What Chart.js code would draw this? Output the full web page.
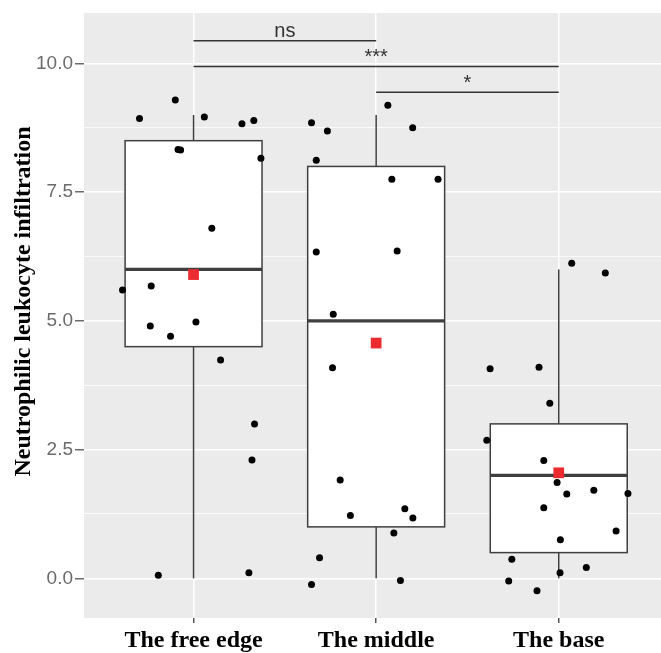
<!DOCTYPE html>
<html lang="en">
<head>
<meta charset="UTF-8">
<title>Neutrophilic leukocyte infiltration</title>
<style>
  body { margin: 0; background: #fff; }
  #wrap { width: 661px; height: 653px; }
</style>
</head>
<body>
<div id="wrap"><canvas id="boxChart" width="661" height="653"></canvas></div>
<script src="https://cdn.jsdelivr.net/npm/chart.js"></script>
<script>
const categories = ['The free edge', 'The middle', 'The base'];
const yTitle = 'Neutrophilic leukocyte infiltration';
const yTicks = [0, 1.25, 2.5, 3.75, 5, 6.25, 7.5, 8.75, 10];

// box stats for each group
const boxLow = [0, 0, 0];
const boxQ1 = [4.5, 1.0, 0.5];
const boxMedian = [6.0, 5.0, 2.0];
const boxQ3 = [8.5, 8.0, 3.0];
const boxHigh = [9.0, 9.0, 6.0];
const groupMeans = [5.9, 4.57, 2.05];

// jittered points (x = group position with jitter)
const freeEdgeX = [0.704, 0.900, 1.059, 1.265, 1.330, 0.915, 0.929, 1.369, 1.100, 0.611, 0.768, 0.763, 1.013, 0.874, 1.148, 1.334, 1.320, 0.807, 1.303];
const freeEdgeY = [8.93, 9.29, 8.96, 8.83, 8.89, 8.33, 8.32, 8.16, 6.80, 5.60, 5.68, 4.90, 4.98, 4.70, 4.24, 3.00, 2.30, 0.06, 0.11];
const middleX = [2.064, 1.646, 1.733, 2.200, 1.672, 2.086, 2.339, 1.672, 2.115, 1.765, 1.761, 1.803, 1.859, 2.157, 2.201, 2.097, 1.690, 1.646, 2.133];
const middleY = [9.19, 8.85, 8.69, 8.75, 8.12, 7.75, 7.75, 6.34, 6.36, 5.13, 4.09, 1.91, 1.22, 1.35, 1.17, 0.88, 0.40, -0.12, -0.04];
const baseX = [3.071, 3.255, 2.624, 2.892, 2.951, 2.606, 2.918, 2.991, 3.044, 3.192, 3.379, 2.918, 3.314, 3.009, 2.743, 3.151, 3.007, 2.726, 2.881];
const baseY = [6.12, 5.93, 4.07, 4.10, 3.40, 2.68, 2.29, 1.86, 1.64, 1.71, 1.65, 1.37, 0.92, 0.75, 0.37, 0.21, 0.11, -0.05, -0.24];

// significance brackets
const sigFrom = [1, 1, 2];
const sigTo = [2, 3, 3];
const sigLevel = [10.44, 9.94, 9.44];
const sigLabels = ['ns', '***', '*'];

const BOX_WIDTH = 0.75;
const LINE_COLOR = '#3f3f3f';

function toPoints(xs, ys) {
  return xs.map((v, i) => ({ x: v, y: ys[i] }));
}

// grey panel like ggplot
const panelBackground = {
  id: 'panelBackground',
  beforeDraw(chart) {
    const { ctx, chartArea: a } = chart;
    ctx.save();
    ctx.fillStyle = '#EBEBEB';
    ctx.fillRect(a.left, a.top, a.right - a.left, a.bottom - a.top);
    ctx.restore();
  }
};

function line(ctx, x1, y1, x2, y2) {
  ctx.beginPath();
  ctx.moveTo(x1, y1);
  ctx.lineTo(x2, y2);
  ctx.stroke();
}

// boxplots under the points
const boxes = {
  id: 'boxes',
  beforeDatasetsDraw(chart) {
    const { ctx, scales: { x, y } } = chart;
    ctx.save();
    ctx.strokeStyle = LINE_COLOR;
    categories.forEach((c, i) => {
      const cx = x.getPixelForValue(i + 1);
      const left = x.getPixelForValue(i + 1 - BOX_WIDTH / 2);
      const right = x.getPixelForValue(i + 1 + BOX_WIDTH / 2);
      const top = y.getPixelForValue(boxQ3[i]);
      const bottom = y.getPixelForValue(boxQ1[i]);
      ctx.lineWidth = 1.5;
      line(ctx, cx, y.getPixelForValue(boxHigh[i]), cx, top);
      line(ctx, cx, bottom, cx, y.getPixelForValue(boxLow[i]));
      ctx.fillStyle = '#ffffff';
      ctx.fillRect(left, top, right - left, bottom - top);
      ctx.strokeRect(left, top, right - left, bottom - top);
      ctx.lineWidth = 3.2;
      const med = y.getPixelForValue(boxMedian[i]);
      line(ctx, left, med, right, med);
    });
    ctx.restore();
  }
};

// significance brackets and labels
const brackets = {
  id: 'brackets',
  afterDatasetsDraw(chart) {
    const { ctx, scales: { x, y } } = chart;
    ctx.save();
    ctx.strokeStyle = '#333333';
    ctx.fillStyle = '#333333';
    ctx.lineWidth = 1.5;
    ctx.font = '20px "Liberation Sans", Arial, sans-serif';
    ctx.textAlign = 'center';
    ctx.textBaseline = 'alphabetic';
    sigLabels.forEach((lab, i) => {
      const x1 = x.getPixelForValue(sigFrom[i]);
      const x2 = x.getPixelForValue(sigTo[i]);
      const yy = y.getPixelForValue(sigLevel[i]);
      line(ctx, x1, yy, x2, yy);
      ctx.fillText(lab, (x1 + x2) / 2, yy - 3.5);
    });
    ctx.restore();
  }
};

// y axis title
const yAxisTitle = {
  id: 'yAxisTitle',
  afterDraw(chart) {
    const { ctx } = chart;
    ctx.save();
    ctx.translate(29.5, 301.5);
    ctx.rotate(-Math.PI / 2);
    ctx.font = 'bold 24px "Liberation Serif", "Times New Roman", serif';
    ctx.fillStyle = '#000000';
    ctx.textAlign = 'center';
    ctx.textBaseline = 'alphabetic';
    ctx.fillText(yTitle, 0, 0);
    ctx.restore();
  }
};

const isMajor = v => Math.abs(v / 2.5 - Math.round(v / 2.5)) < 1e-6;

new Chart(document.getElementById('boxChart'), {
  type: 'scatter',
  data: {
    datasets: [
      {
        label: 'means',
        data: groupMeans.map((m, i) => ({ x: i + 1, y: m })),
        pointStyle: 'rect',
        pointRadius: 7.6,
        backgroundColor: '#EC2B30',
        borderWidth: 0
      },
      {
        label: categories[0],
        data: toPoints(freeEdgeX, freeEdgeY),
        pointRadius: 3.5,
        backgroundColor: '#000000',
        borderWidth: 0
      },
      {
        label: categories[1],
        data: toPoints(middleX, middleY),
        pointRadius: 3.5,
        backgroundColor: '#000000',
        borderWidth: 0
      },
      {
        label: categories[2],
        data: toPoints(baseX, baseY),
        pointRadius: 3.5,
        backgroundColor: '#000000',
        borderWidth: 0
      }
    ]
  },
  options: {
    responsive: false,
    animation: false,
    layout: { autoPadding: false, padding: { top: 13, right: 0, left: 0, bottom: 0 } },
    plugins: {
      legend: { display: false },
      tooltip: { enabled: false }
    },
    scales: {
      x: {
        type: 'linear',
        min: 0.4,
        max: 3.56,
        afterBuildTicks(scale) {
          scale.ticks = categories.map((c, i) => ({ value: i + 1 }));
        },
        afterFit(scale) {
          scale.height = 35;
          scale.paddingLeft = 0;
          scale.paddingRight = 0;
        },
        ticks: {
          autoSkip: false,
          maxRotation: 0,
          padding: 3,
          color: '#000000',
          font: { family: '"Liberation Serif", "Times New Roman", serif', size: 24, weight: 'bold' },
          callback: v => categories[Math.round(v) - 1]
        },
        grid: {
          color: '#ffffff',
          lineWidth: 1.5,
          tickColor: '#555555',
          tickLength: 5
        },
        border: { display: false }
      },
      y: {
        min: -0.77,
        max: 10.98,
        afterBuildTicks(scale) {
          scale.ticks = yTicks.map(v => ({ value: v }));
        },
        afterFit(scale) {
          scale.width = 84;
          scale.paddingTop = 0;
          scale.paddingBottom = 0;
        },
        ticks: {
          autoSkip: false,
          padding: 2,
          color: '#6b6b6b',
          font: { family: '"Liberation Sans", Arial, sans-serif', size: 19 },
          callback: v => isMajor(v) ? v.toFixed(1) : ''
        },
        grid: {
          color: '#ffffff',
          lineWidth: ctx => isMajor(ctx.tick.value) ? 1.5 : 0.8,
          tickColor: ctx => isMajor(ctx.tick.value) ? '#6b6b6b' : 'rgba(0,0,0,0)',
          tickLength: 9
        },
        border: { display: false }
      }
    }
  },
  plugins: [panelBackground, boxes, brackets, yAxisTitle]
});
</script>
</body>
</html>
